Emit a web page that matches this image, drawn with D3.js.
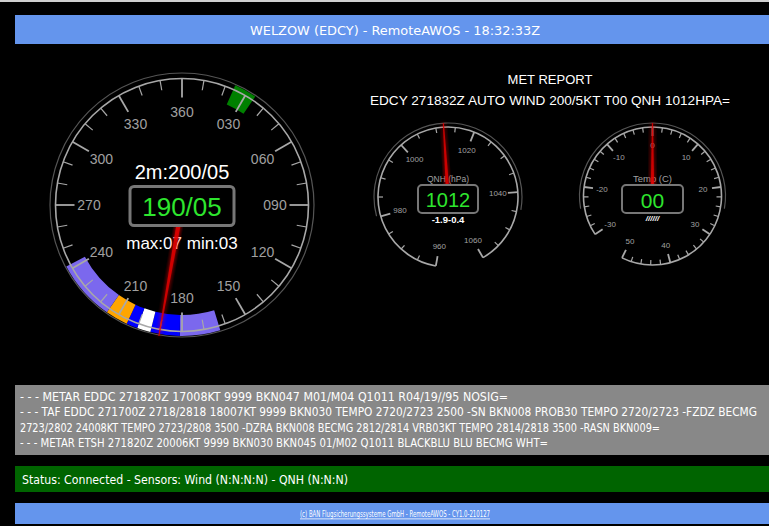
<!DOCTYPE html>
<html>
<head>
<meta charset="utf-8">
<script src="https://cdn.jsdelivr.net/npm/d3@7"></script>
<style>
html, body { margin: 0; padding: 0; background: #000; overflow: hidden; }
</style>
</head>
<body>
<script>
// ---- page texts ----
const stationTitle = "WELZOW (EDCY) - RemoteAWOS - 18:32:33Z";
const metReport = ["MET REPORT", "EDCY 271832Z AUTO WIND 200/5KT T00 QNH 1012HPA="];
const reportLines = [
	"- - - METAR EDDC 271820Z 17008KT 9999 BKN047 M01/M04 Q1011 R04/19//95 NOSIG=",
	"- - - TAF EDDC 271700Z 2718/2818 18007KT 9999 BKN030 TEMPO 2720/2723 2500 -SN BKN008 PROB30 TEMPO 2720/2723 -FZDZ BECMG",
	"2723/2802 24008KT TEMPO 2723/2808 3500 -DZRA BKN008 BECMG 2812/2814 VRB03KT TEMPO 2814/2818 3500 -RASN BKN009=",
	"- - - METAR ETSH 271820Z 20006KT 9999 BKN030 BKN045 01/M02 Q1011 BLACKBLU BLU BECMG WHT="
];
const statusText = "Status: Connected - Sensors: Wind (N:N:N:N) - QNH (N:N:N)";
const footerText = "(c) BAN Flugsicherungssysteme GmbH - RemoteAWOS - CY1.0-210127";

// ---- wind ----
const windDir = 190, windSpeed = 5;
const wind2mDir = 200, wind2mSpeed = 5;
const windMax = 7, windMin = 3;
const windTickLabels = ["360", "030", "060", "090", "120", "150", "180", "210", "240", "270", "300", "330"];
const windBandFrom = [163, 181, 194, 200, 205, 215, 24];
const windBandTo = [181, 194, 200, 205, 215, 242, 34];
const windBandKind = ["sector", "recent", "now", "recent", "gust", "sector", "variable"];

// ---- qnh ----
const qnhValue = 1012;
const qnhTrend = "-1.9-0.4";
const qnhTickLabels = [960, 980, 1000, 1020, 1040, 1060];

// ---- temperature ----
const tempValue = 0;
const tempTickLabels = [-30, -20, -10, 0, 10, 20, 30, 40, 50];

const width = 769, height = 526;
const rad = d => d * Math.PI / 180;

let svg = d3.select("body").append("svg")
	.attr("width", width)
	.attr("height", height)
	.style("display", "block")
	.style("background", "#000");

let defs = svg.append("defs");
defs.append("filter").attr("id", "glow")
	.attr("x", "-50%").attr("y", "-50%").attr("width", "200%").attr("height", "200%")
	.append("feGaussianBlur").attr("stdDeviation", 2.2);

const boxFont = "DejaVu Sans Condensed, DejaVu Sans, sans-serif";
const gaugeFont = "Liberation Sans, Arial, sans-serif";

// squeezes a text to the measured width from the picture
function fit(sel, w) {
	return sel.attr("textLength", w).attr("lengthAdjust", "spacingAndGlyphs");
}

// thin light line along the top edge
svg.append("rect").attr("x", 0).attr("y", 0).attr("width", width).attr("height", 2).attr("fill", "#cfcfcf");

// header bar
svg.append("rect").attr("x", 15).attr("y", 15).attr("width", 780).attr("height", 29).attr("fill", "#6495ed");
fit(svg.append("text")
	.attr("x", 395).attr("y", 30)
	.attr("text-anchor", "middle").attr("dominant-baseline", "central")
	.attr("font-family", boxFont).attr("font-size", 13).attr("fill", "#fff")
	.text(stationTitle), 290);

// met report heading
svg.append("text").attr("x", 550).attr("y", 79)
	.attr("text-anchor", "middle").attr("dominant-baseline", "central")
	.attr("font-family", gaugeFont).attr("font-size", 13).attr("fill", "#fff")
	.text(metReport[0]);
fit(svg.append("text").attr("x", 550).attr("y", 100)
	.attr("text-anchor", "middle").attr("dominant-baseline", "central")
	.attr("font-family", gaugeFont).attr("font-size", 13).attr("fill", "#fff")
	.text(metReport[1]), 360);

// generic round gauge
function gauge(opt) {
	let g = svg.append("g").attr("transform", `translate(${opt.cx}, ${opt.cy})`);
	let angle = opt.scale; // value -> degrees, 0 = up, clockwise
	let [a0, a1] = opt.span;

	let arc = d3.arc();
	// faint bezel
	g.append("path")
		.attr("d", arc({innerRadius: opt.faintR, outerRadius: opt.faintR, startAngle: rad(opt.faintSpan[0]), endAngle: rad(opt.faintSpan[1])}))
		.attr("fill", "none").attr("stroke", "#555").attr("stroke-width", 1.2);

	if (opt.bands) opt.bands(g);

	// scale arc
	g.append("path")
		.attr("d", arc({innerRadius: opt.r, outerRadius: opt.r, startAngle: rad(a0), endAngle: rad(a1)}))
		.attr("fill", "none").attr("stroke", "#a8a8a8").attr("stroke-width", 1.6);

	// ticks
	let ticks = opt.minorTicks.map(v => ({v: v, major: opt.majorTicks.includes(v)}));
	g.selectAll("line.tick").data(ticks).enter().append("line")
		.attr("class", "tick")
		.attr("x1", d => opt.r * Math.sin(rad(angle(d.v))))
		.attr("y1", d => -opt.r * Math.cos(rad(angle(d.v))))
		.attr("x2", d => (opt.r - (d.major ? opt.majorLen : opt.minorLen)) * Math.sin(rad(angle(d.v))))
		.attr("y2", d => -(opt.r - (d.major ? opt.majorLen : opt.minorLen)) * Math.cos(rad(angle(d.v))))
		.attr("stroke", "#a8a8a8")
		.attr("stroke-width", d => d.major ? 1.8 : 1.2);

	// tick labels
	g.selectAll("text.lbl").data(opt.labels).enter().append("text")
		.attr("class", "lbl")
		.attr("x", d => opt.labelR * Math.sin(rad(angle(d.v))))
		.attr("y", d => -opt.labelR * Math.cos(rad(angle(d.v))))
		.attr("text-anchor", "middle").attr("dominant-baseline", "central")
		.attr("font-family", gaugeFont).attr("font-size", opt.labelSize)
		.attr("fill", "#a0a0a0")
		.text(d => d.t);

	// texts under the needle
	opt.under(g);

	// needle
	let a = angle(opt.value);
	let needle = g.append("g").attr("transform", `rotate(${a})`);
	let pts = [[-opt.needleW, 0], [-0.6, -opt.needleR], [0.6, -opt.needleR], [opt.needleW, 0]];
	needle.append("polygon").attr("points", pts.join(" "))
		.attr("fill", "#ff0000").attr("opacity", 0.9).attr("filter", "url(#glow)");
	needle.append("polygon").attr("points", pts.join(" "))
		.attr("fill", "#e00000").attr("opacity", 0.85);

	// display box
	g.append("rect")
		.attr("x", opt.box[0]).attr("y", opt.box[1]).attr("width", opt.box[2]).attr("height", opt.box[3])
		.attr("rx", 4).attr("fill", "#000").attr("stroke", "#777").attr("stroke-width", opt.boxStroke);
	g.append("text")
		.attr("x", opt.box[0] + opt.box[2] / 2).attr("y", opt.box[1] + opt.box[3] / 2 + 1)
		.attr("text-anchor", "middle").attr("dominant-baseline", "central")
		.attr("font-family", gaugeFont).attr("font-size", opt.valueSize)
		.attr("fill", "#2ee62e")
		.text(opt.valueText);

	return g;
}

// ---- wind gauge ----
let windAngle = d3.scaleLinear().domain([0, 360]).range([0, 360]);
let bandColor = d3.scaleOrdinal()
	.domain(["sector", "recent", "now", "gust", "variable"])
	.range(["#7b68ee", "#0000ff", "#ffffff", "#ffa500", "#008000"]);
let pad2 = d3.format("02d");
let pad3 = d3.format("03d");

gauge({
	cx: 182, cy: 205,
	scale: windAngle,
	span: [0, 360], faintSpan: [0, 360],
	r: 126.5, faintR: 132,
	majorTicks: d3.range(0, 360, 30), minorTicks: d3.range(0, 360, 10),
	majorLen: 19, minorLen: 10,
	labels: windTickLabels.map((t, i) => ({v: i * 30, t: t})),
	labelR: 93, labelSize: 14,
	bands: g => {
		let arc = d3.arc().innerRadius(110).outerRadius(131);
		g.selectAll("path.band").data(windBandFrom.map((f, i) => ({f: f, t: windBandTo[i], k: windBandKind[i]})))
			.enter().append("path")
			.attr("class", "band")
			.attr("d", d => arc({startAngle: rad(windAngle(d.f)), endAngle: rad(windAngle(d.t))}))
			.attr("fill", d => bandColor(d.k));
	},
	under: g => {
		g.append("text").attr("x", 0).attr("y", -33)
			.attr("text-anchor", "middle").attr("dominant-baseline", "central")
			.attr("font-family", gaugeFont).attr("font-size", 20).attr("fill", "#fff")
			.text("2m:" + pad3(wind2mDir) + "/" + pad2(wind2mSpeed));
		g.append("text").attr("x", 0).attr("y", 38)
			.attr("text-anchor", "middle").attr("dominant-baseline", "central")
			.attr("font-family", gaugeFont).attr("font-size", 17).attr("fill", "#fff")
			.text("max:" + pad2(windMax) + " min:" + pad2(windMin));
	},
	value: windDir, needleR: 133, needleW: 2.4,
	box: [-52, -18.5, 104, 39], boxStroke: 3,
	valueSize: 26, valueText: pad3(windDir) + "/" + pad2(windSpeed)
});

// ---- QNH gauge ----
let qnhAngle = d3.scaleLinear().domain([960, 1060]).range([-170, 150]);
gauge({
	cx: 448, cy: 197,
	scale: qnhAngle,
	span: [-170, 150], faintSpan: [-105, 100],
	r: 70, faintR: 74,
	majorTicks: d3.range(960, 1061, 20), minorTicks: d3.range(960, 1061, 5),
	majorLen: 10, minorLen: 5,
	labels: qnhTickLabels.map(v => ({v: v, t: String(v)})),
	labelR: 50, labelSize: 8,
	under: g => {
		g.append("text").attr("x", 0).attr("y", -18)
			.attr("text-anchor", "middle").attr("dominant-baseline", "central")
			.attr("font-family", gaugeFont).attr("font-size", 8.5).attr("fill", "#a0a0a0")
			.text("QNH (hPa)");
		g.append("text").attr("x", 0).attr("y", 22)
			.attr("text-anchor", "middle").attr("dominant-baseline", "central")
			.attr("font-family", gaugeFont).attr("font-size", 9.5).attr("font-weight", "bold").attr("fill", "#fff")
			.text(qnhTrend);
	},
	value: qnhValue, needleR: 74, needleW: 1.8,
	box: [-30, -12, 60, 28], boxStroke: 2,
	valueSize: 20, valueText: String(qnhValue)
});

// ---- temperature gauge ----
let tempAngle = d3.scaleLinear().domain([-30, 50]).range([-123.75, 206.25]);
gauge({
	cx: 652.5, cy: 196,
	scale: tempAngle,
	span: [-123.75, 206.25], faintSpan: [-100, 100],
	r: 69, faintR: 73,
	majorTicks: d3.range(-30, 51, 10), minorTicks: d3.range(-30, 51, 2),
	majorLen: 9, minorLen: 5,
	labels: tempTickLabels.map(v => ({v: v, t: String(v)})),
	labelR: 51, labelSize: 8,
	under: g => {
		g.append("text").attr("x", 0).attr("y", -18)
			.attr("text-anchor", "middle").attr("dominant-baseline", "central")
			.attr("font-family", gaugeFont).attr("font-size", 9.5).attr("fill", "#a0a0a0")
			.text("Temp (C)");
		g.append("text").attr("x", 0).attr("y", 22)
			.attr("text-anchor", "middle").attr("dominant-baseline", "central")
			.attr("font-family", gaugeFont).attr("font-size", 8).attr("font-weight", "bold")
			.attr("font-style", "italic").attr("fill", "#fff")
			.text("//////");
	},
	value: tempValue, needleR: 73, needleW: 1.8,
	box: [-30.5, -11, 61, 28], boxStroke: 2,
	valueSize: 21, valueText: pad2(tempValue)
});

// ---- report panel ----
svg.append("rect").attr("x", 15).attr("y", 385).attr("width", 780).attr("height", 70).attr("fill", "#888");
let lineWidths = [488, 737, 640, 528];
reportLines.forEach((t, i) => {
	fit(svg.append("text")
		.attr("x", 20).attr("y", 397 + i * 15.3)
		.attr("dominant-baseline", "central")
		.attr("font-family", boxFont).attr("font-size", 12).attr("fill", "#fff")
		.text(t), lineWidths[i]);
});

// ---- status panel ----
svg.append("rect").attr("x", 15).attr("y", 466).attr("width", 780).attr("height", 26).attr("fill", "#006400");
fit(svg.append("text")
	.attr("x", 22).attr("y", 479)
	.attr("dominant-baseline", "central")
	.attr("font-family", boxFont).attr("font-size", 12.5).attr("fill", "#fff")
	.text(statusText), 326);

// ---- footer ----
svg.append("rect").attr("x", 15).attr("y", 503).attr("width", 780).attr("height", 21).attr("fill", "#6495ed");
fit(svg.append("text")
	.attr("x", 395).attr("y", 514)
	.attr("text-anchor", "middle").attr("dominant-baseline", "central")
	.attr("font-family", boxFont).attr("font-size", 8).attr("fill", "#fff")
	.attr("text-decoration", "underline")
	.text(footerText), 190);
</script>
</body>
</html>
